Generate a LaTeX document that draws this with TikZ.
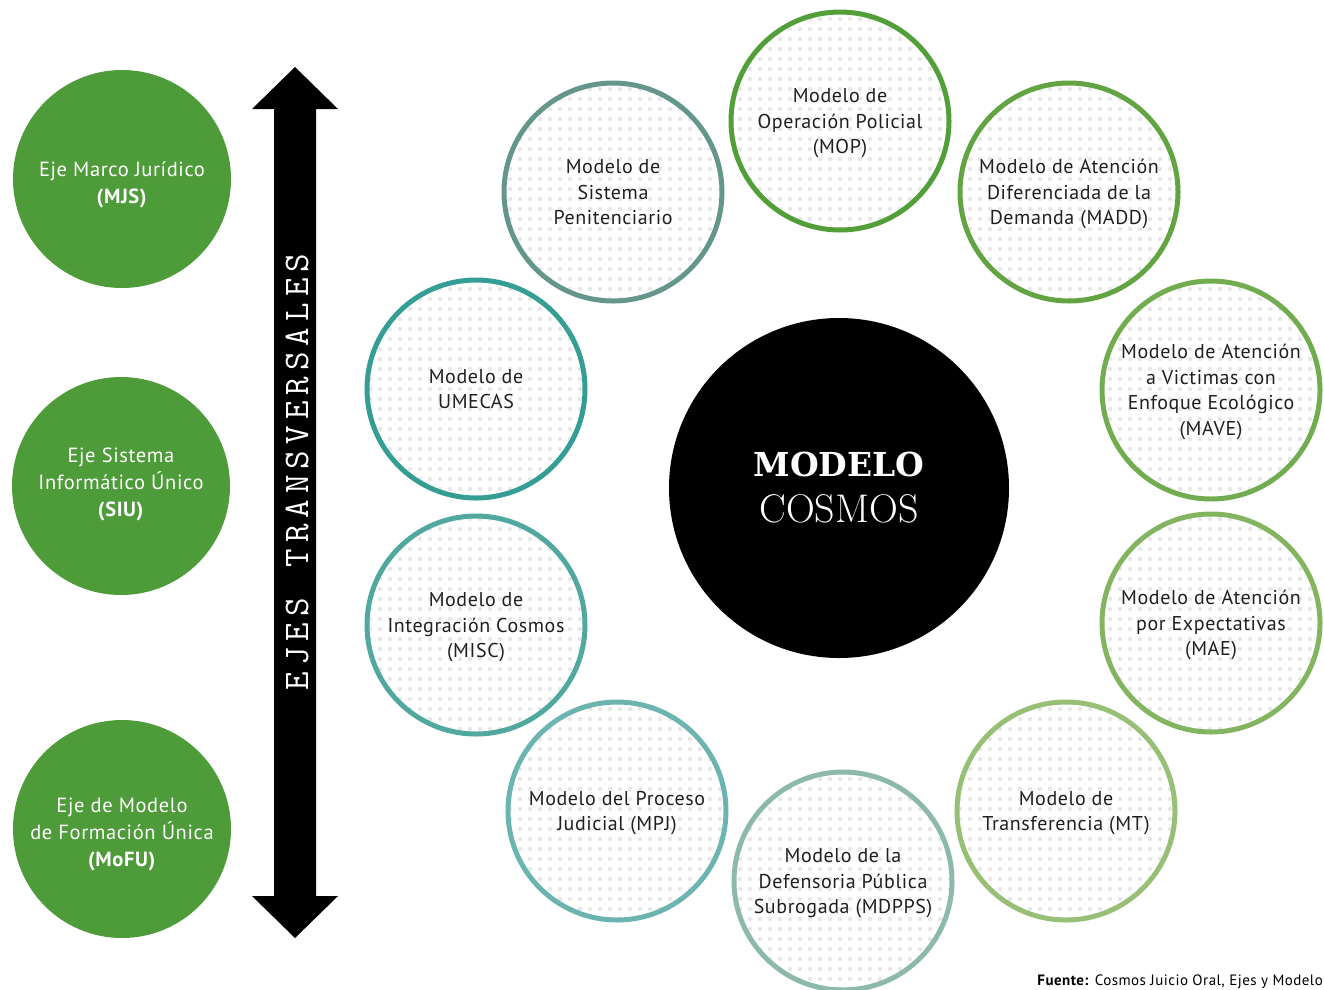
\documentclass[tikz,border=0pt]{standalone}
\usepackage{fontspec}
\usetikzlibrary{patterns.meta}
\newfontfamily\dinfont[LetterSpace=3]{PT Sans}
\newfontfamily\slabfont{DejaVu Serif}
\definecolor{ejegreen}{RGB}{78,155,57}
\definecolor{dotgrey}{RGB}{231,231,231}
\definecolor{cPEN}{RGB}{100,150,140}
\definecolor{cMOP}{RGB}{82,158,56}
\definecolor{cMADD}{RGB}{98,163,66}
\definecolor{cMAVE}{RGB}{114,172,80}
\definecolor{cMAE}{RGB}{131,181,97}
\definecolor{cMT}{RGB}{151,191,118}
\definecolor{cMDPPS}{RGB}{140,185,170}
\definecolor{cMPJ}{RGB}{108,180,175}
\definecolor{cMISC}{RGB}{80,168,158}
\definecolor{cUMECAS}{RGB}{52,158,148}
\newcommand\ejletter[1]{\makebox[24.6pt]{#1}}
\begin{document}
\begin{tikzpicture}[x=1pt,y=-1pt,
  model/.style={circle, draw=#1, line width=5pt, minimum size=218pt, inner sep=0pt,
    pattern={Dots[distance=10pt,radius=2.2pt]}, pattern color=dotgrey, text depth=0pt,
    align=center, text=black!88, font=\dinfont\fontsize{20}{25.5}\selectfont},
  eje/.style={circle, fill=ejegreen, minimum size=218pt, inner sep=0pt,
    align=center, text=white, font=\dinfont\fontsize{20.5}{27}\selectfont},
  arrowshape/.style={fill=black}]
\useasboundingbox (0,0) rectangle (1324,989);

% left axis circles
\node[eje, text height=48.5pt, text depth=0pt] (mjs) at (122,179) {Eje Marco Jurídico\\\textbf{(MJS)}};
\node[eje, text depth=8pt] (siu) at (121,486) {Eje Sistema\\Informático Único\\\textbf{(SIU)}};
\node[eje, text height=75pt, text depth=0pt] (mofu) at (122,829) {Eje de Modelo\\de Formación Única\\\textbf{(MoFU)}};

% double arrow
\fill[arrowshape] (295,67) -- (338,109) -- (316,109) -- (316,896) -- (338,896) -- (295,938)
  -- (252,896) -- (274,896) -- (274,109) -- (252,109) -- cycle;
\node[rotate=90, text=white, inner sep=0pt,
  font=\ttfamily\fontsize{36}{36}\selectfont] (ejes) at (297,472)
  {\ejletter{E}\ejletter{J}\ejletter{E}\ejletter{S}\ejletter{\ }\ejletter{T}\ejletter{R}\ejletter{A}\ejletter{N}\ejletter{S}\ejletter{V}\ejletter{E}\ejletter{R}\ejletter{S}\ejletter{A}\ejletter{L}\ejletter{E}\ejletter{S}};

% central circle
\node[circle, fill=black, minimum size=340pt, inner sep=0pt, align=center, text=white,
  font=\fontsize{36}{46}\selectfont] (cosmos) at (839,488)
  {{\slabfont\bfseries\fontsize{33}{46}\selectfont MODELO}\\{\rmfamily\fontsize{40}{46}\selectfont COSMOS}};

% model circles
\node[model=cPEN] (pen) at (613,192) {Modelo de\\Sistema\\Penitenciario};
\node[model=cMOP] (mop) at (840,121) {Modelo de\\Operación Policial\\(MOP)};
\node[model=cMADD] (madd) at (1069,192) {Modelo de Atención\\Diferenciada de la\\Demanda (MADD)};
\node[model=cMAVE] (mave) at (1211,390) {Modelo de Atención\\a Victimas con\\Enfoque Ecológico\\(MAVE)};
\node[model=cMAE] (mae) at (1211,623) {Modelo de Atención\\por Expectativas\\(MAE)};
\node[model=cMT] (mt) at (1066,811) {Modelo de\\Transferencia (MT)};
\node[model=cMDPPS] (mdpps) at (843,881) {Modelo de la\\Defensoria Pública\\Subrogada (MDPPS)};
\node[model=cMPJ] (mpj) at (617,811) {Modelo del Proceso\\Judicial (MPJ)};
\node[model=cMISC] (misc) at (476,625) {Modelo de\\Integración Cosmos\\(MISC)};
\node[model=cUMECAS] (umecas) at (476,389) {Modelo de\\UMECAS};

% source
\node[anchor=base east, inner sep=0pt, font=\dinfont\fontsize{15}{17}\selectfont] (fuente) at (1323,985)
  {\textbf{Fuente:} Cosmos Juicio Oral, Ejes y Modelo};
\end{tikzpicture}
\end{document}
